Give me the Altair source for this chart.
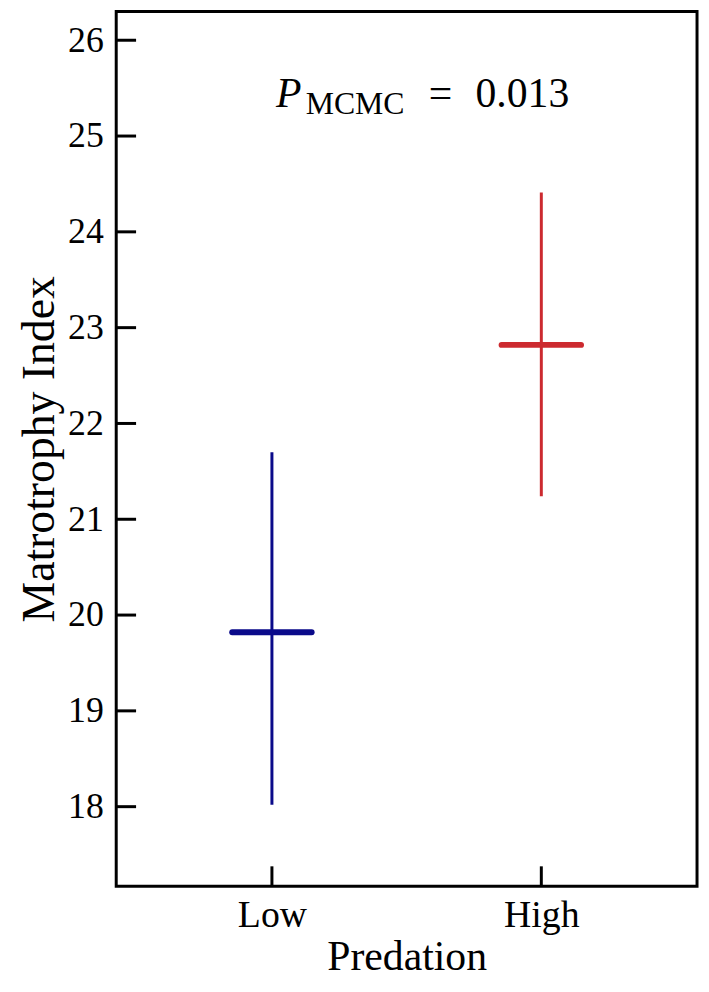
import altair as alt
import pandas as pd

# ---- data ----
groups = ["Low", "High"]
group_pos = [1, 2]
means = [19.82, 22.82]
lower = [18.02, 21.24]
upper = [21.70, 24.41]
colors = ["#0a0a8a", "#cc2a2f"]

y_ticks = [18, 19, 20, 21, 22, 23, 24, 25, 26]
x_ticks = [1, 2]

annot_x = [1.0]
annot_y = [25.3]

df = pd.DataFrame({"group": groups, "pos": group_pos, "mean": means,
                   "lo": lower, "hi": upper})
yt = pd.DataFrame({"pos": [1.0] * len(y_ticks), "mean": y_ticks})
xt = pd.DataFrame({"pos": x_ticks, "mean": [20.0] * len(x_ticks)})
ann = pd.DataFrame({"pos": annot_x, "mean": annot_y})

W, H = 585, 881
FONT = "Liberation Serif"

xscale = alt.Scale(domain=[0.422, 2.578], nice=False, zero=False)
yscale = alt.Scale(domain=[17.17, 26.30], nice=False, zero=False)

xaxis = alt.Axis(title="Predation", values=x_ticks,
                 labelExpr="datum.value == 1 ? 'Low' : 'High'",
                 ticks=False, tickSize=0, domain=False, grid=False,
                 labelFont=FONT, labelFontSize=38, labelColor="black",
                 labelPadding=11, titleFont=FONT, titleFontSize=42,
                 titleFontWeight="normal", titleColor="black",
                 titleY=84, titleBaseline="alphabetic")
yaxis = alt.Axis(title="Matrotrophy Index", values=y_ticks,
                 ticks=False, tickSize=0, domain=False, grid=False,
                 labelFont=FONT, labelFontSize=36, labelColor="black",
                 labelPadding=13, titleFont=FONT, titleFontSize=46,
                 titleFontWeight="normal", titleColor="black",
                 titleX=-63, titleBaseline="alphabetic")

X = alt.X("pos:Q", scale=xscale, axis=xaxis)
Y = alt.Y("mean:Q", scale=yscale, axis=yaxis)
C = alt.Color("group:N", scale=alt.Scale(domain=groups, range=colors), legend=None)

base = alt.Chart(df)

errs = base.mark_rule(strokeWidth=3).encode(
    x=X, y=alt.Y("lo:Q", scale=yscale, axis=yaxis), y2="hi:Q", color=C)

mbar = base.mark_rule(strokeWidth=6, strokeCap="round", xOffset=-40, x2Offset=40).encode(
    x=X, x2="pos:Q", y=Y, color=C)

ytick = alt.Chart(yt).mark_rule(color="black", strokeWidth=3).encode(
    y=Y, x=alt.value(0), x2=alt.value(20))

xtick = alt.Chart(xt).mark_rule(color="black", strokeWidth=3).encode(
    x=X, y=alt.value(H), y2=alt.value(H - 20))

txt_common = dict(font=FONT, color="black", align="left", baseline="alphabetic")
t1 = alt.Chart(ann).mark_text(text="P", fontSize=42, fontStyle="italic", dx=4, **txt_common).encode(x=X, y=Y)
t2 = alt.Chart(ann).mark_text(text="MCMC", fontSize=32, dx=34, dy=7, **txt_common).encode(x=X, y=Y)
t3 = alt.Chart(ann).mark_text(text="=", fontSize=42, dx=158, **txt_common).encode(x=X, y=Y)
t4 = alt.Chart(ann).mark_text(text="0.013", fontSize=42, dx=205, **txt_common).encode(x=X, y=Y)

chart = alt.layer(errs, mbar, ytick, xtick, t1, t2, t3, t4).properties(
    width=W, height=H, autosize="none",
    padding={"left": 109, "top": 0, "right": 4, "bottom": 95},
).configure_view(stroke="black", strokeWidth=3)

chart.save("out.html", embed_options={"renderer": "svg", "actions": False})
